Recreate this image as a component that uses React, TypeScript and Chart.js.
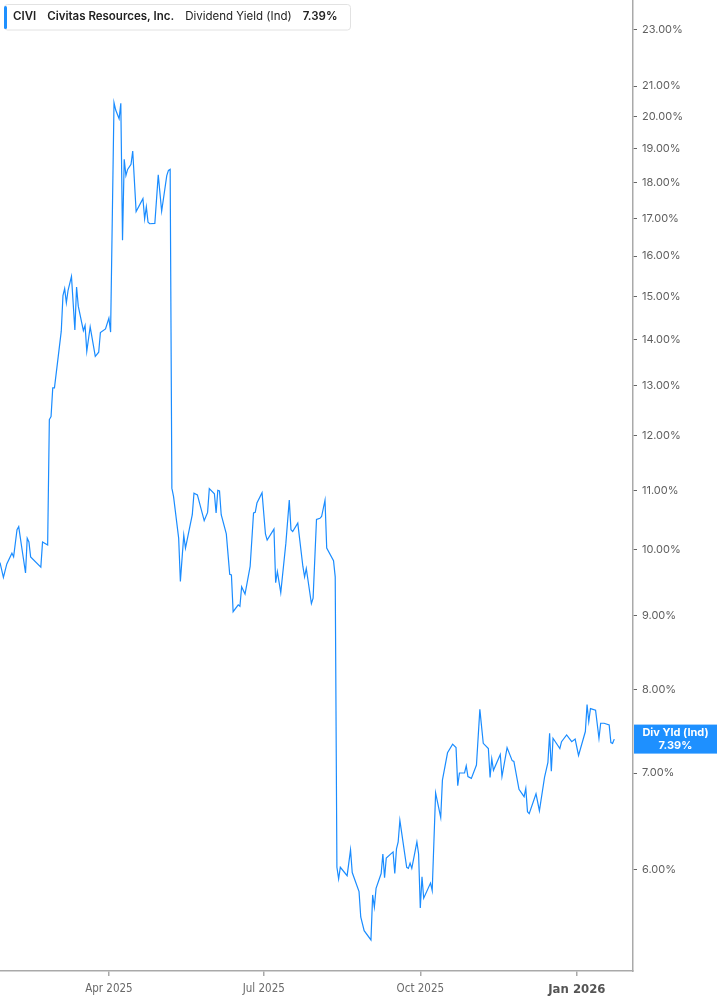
import React, { useEffect, useRef } from "react";
import { Chart, registerables } from "chart.js";

Chart.register(...registerables);

// ---- data ----
const ticker = "CIVI";
const companyName = "Civitas Resources, Inc.";
const metricName = "Dividend Yield (Ind)";
const badgeName = "Div Yld (Ind)";

const dates = [
  "2025-01-27","2025-01-29","2025-01-31","2025-02-03","2025-02-04","2025-02-06","2025-02-07","2025-02-09","2025-02-11","2025-02-12",
  "2025-02-13","2025-02-14","2025-02-20","2025-02-21","2025-02-24","2025-02-25","2025-02-26","2025-02-27","2025-02-28","2025-03-02",
  "2025-03-04","2025-03-05","2025-03-06","2025-03-07","2025-03-08","2025-03-10","2025-03-12","2025-03-13","2025-03-14","2025-03-17",
  "2025-03-18","2025-03-19","2025-03-21","2025-03-24","2025-03-26","2025-03-27","2025-03-30","2025-04-01","2025-04-02","2025-04-04",
  "2025-04-05","2025-04-07","2025-04-08","2025-04-09","2025-04-10","2025-04-11","2025-04-12","2025-04-14","2025-04-15","2025-04-17",
  "2025-04-21","2025-04-22","2025-04-23","2025-04-24","2025-04-25","2025-04-28","2025-04-30","2025-05-02","2025-05-05","2025-05-06",
  "2025-05-07","2025-05-08","2025-05-09","2025-05-12","2025-05-13","2025-05-15","2025-05-16","2025-05-20","2025-05-21","2025-05-23",
  "2025-05-27","2025-05-29","2025-05-30","2025-06-02","2025-06-03","2025-06-04","2025-06-05","2025-06-06","2025-06-09","2025-06-11",
  "2025-06-12","2025-06-13","2025-06-16","2025-06-17","2025-06-18","2025-06-20","2025-06-23","2025-06-25","2025-06-26","2025-06-27",
  "2025-06-30","2025-07-02","2025-07-03","2025-07-07","2025-07-08","2025-07-09","2025-07-11","2025-07-14","2025-07-16","2025-07-17",
  "2025-07-18","2025-07-21","2025-07-24","2025-07-25","2025-07-26","2025-07-29","2025-07-30","2025-08-01","2025-08-03","2025-08-04",
  "2025-08-06","2025-08-07","2025-08-11","2025-08-12","2025-08-13","2025-08-14","2025-08-15","2025-08-19","2025-08-21","2025-08-22",
  "2025-08-26","2025-08-27","2025-08-29","2025-09-02","2025-09-03","2025-09-04","2025-09-05","2025-09-08","2025-09-09","2025-09-10",
  "2025-09-11","2025-09-15","2025-09-16","2025-09-17","2025-09-18","2025-09-19","2025-09-23","2025-09-24","2025-09-25","2025-09-26",
  "2025-09-29","2025-09-30","2025-10-01","2025-10-02","2025-10-03","2025-10-07","2025-10-08","2025-10-10","2025-10-13","2025-10-14",
  "2025-10-17","2025-10-20","2025-10-22","2025-10-23","2025-10-24","2025-10-27","2025-10-28","2025-10-29","2025-10-31","2025-11-03",
  "2025-11-05","2025-11-07","2025-11-10","2025-11-11","2025-11-12","2025-11-13","2025-11-17","2025-11-18","2025-11-21","2025-11-24",
  "2025-11-25","2025-11-28","2025-12-01","2025-12-02","2025-12-03","2025-12-04","2025-12-08","2025-12-10","2025-12-13","2025-12-15",
  "2025-12-16","2025-12-17","2025-12-18","2025-12-22","2025-12-23","2025-12-26","2025-12-29","2025-12-31","2026-01-02","2026-01-06",
  "2026-01-07","2026-01-08","2026-01-09","2026-01-12","2026-01-14","2026-01-15","2026-01-17","2026-01-20","2026-01-21","2026-01-22",
  "2026-01-23",
];

const yields = [
  9.80, 9.57, 9.78, 9.95, 9.89, 10.33, 10.38, 10.00, 9.64, 10.19,
  10.13, 9.89, 9.73, 10.13, 10.08, 12.32, 12.38, 12.96, 12.96, 13.56,
  14.19, 15.02, 15.19, 14.85, 15.15, 15.49, 14.22, 15.23, 14.77, 14.20,
  14.32, 13.74, 14.29, 13.63, 13.72, 14.16, 14.24, 14.49, 14.17, 20.45,
  20.21, 19.93, 20.43, 16.41, 18.68, 18.20, 18.38, 18.53, 18.93, 17.18,
  17.54, 16.98, 17.31, 16.89, 16.85, 16.86, 18.22, 17.19, 18.20, 18.35,
  18.38, 11.04, 10.89, 10.19, 9.51, 10.24, 10.03, 10.58, 10.95, 10.92,
  10.48, 10.62, 11.03, 10.94, 10.61, 11.00, 10.99, 10.58, 10.26, 9.62,
  9.61, 9.06, 9.16, 9.14, 9.43, 9.32, 9.74, 10.61, 10.62, 10.78,
  10.96, 10.26, 10.16, 10.34, 9.49, 9.66, 9.34, 10.11, 10.83, 10.33,
  10.30, 10.44, 9.74, 9.58, 9.71, 9.18, 9.26, 10.50, 10.52, 10.55,
  10.83, 10.03, 9.83, 9.58, 6.02, 5.91, 6.02, 5.94, 6.19, 5.97,
  5.79, 5.56, 5.44, 5.36, 5.76, 5.65, 5.82, 5.96, 6.15, 5.92,
  6.11, 6.17, 5.96, 6.20, 6.27, 6.49, 6.02, 6.01, 6.06, 6.01,
  6.27, 6.15, 5.64, 5.93, 5.73, 5.87, 5.80, 6.78, 6.52, 6.92,
  7.23, 7.33, 7.29, 6.86, 7.00, 7.00, 7.08, 6.96, 6.94, 7.09,
  7.75, 7.34, 7.28, 6.95, 7.16, 7.03, 7.21, 6.96, 7.29, 7.14,
  7.13, 6.82, 6.74, 6.83, 6.58, 6.56, 6.77, 6.59, 6.95, 7.12,
  7.46, 7.02, 7.40, 7.28, 7.36, 7.44, 7.36, 7.39, 7.20, 7.48,
  7.81, 7.60, 7.76, 7.74, 7.40, 7.58, 7.58, 7.56, 7.35, 7.34,
  7.39,
];

const yTickValues = [6, 7, 8, 9, 10, 11, 12, 13, 14, 15, 16, 17, 18, 19, 20, 21, 23];
const xTickDates = ["2025-04-01", "2025-07-01", "2025-10-01", "2026-01-01"];
const xTickLabels = ["Apr 2025", "Jul 2025", "Oct 2025", "Jan 2026"];
const xRange = ["2025-01-27", "2026-02-03"];
const yRange = [5.1, 24.1];

// ---- styles ----
const W = 717;
const H = 1005;
const LINE_COLOR = "#1a8cff";
const BADGE_COLOR = "#1e90ff";
const AXIS_COLOR = "#a9a9a9";
const NARROW = "'Liberation Sans Narrow', 'DejaVu Sans Condensed', Roboto, sans-serif";
const UI = "Inter, 'Noto Sans', sans-serif";

const toDay = (s: string) => Date.parse(s + "T00:00:00Z") / 86400000;
const xTickDays = xTickDates.map(toDay);

const legendPlugin = {
  id: "legendBox",
  afterDraw(chart: any) {
    const ctx = chart.ctx as CanvasRenderingContext2D;
    ctx.save();
    const parts = [
      { t: ticker, f: `600 11.5px ${UI}`, c: "#222" },
      { t: companyName, f: `600 11.5px ${UI}`, c: "#222" },
      { t: metricName, f: `11.5px ${UI}`, c: "#222" },
      { t: yields[yields.length - 1].toFixed(2) + "%", f: `600 11.5px ${UI}`, c: "#222" },
    ];
    let x = 13;
    const positions: number[] = [];
    parts.forEach((p) => {
      ctx.font = p.f;
      positions.push(x);
      x += ctx.measureText(p.t).width + 11;
    });
    const boxRight = x - 11 + 13;
    const bx = 4.5, by = 4.5, bw = boxRight - bx, bh = 25.5;
    ctx.fillStyle = "#ffffff";
    ctx.strokeStyle = "#e2e2e2";
    ctx.lineWidth = 1;
    ctx.beginPath();
    (ctx as any).roundRect(bx, by, bw, bh, 3);
    ctx.fill();
    ctx.stroke();
    ctx.fillStyle = BADGE_COLOR;
    ctx.beginPath();
    (ctx as any).roundRect(4, 6, 3, 23, 1.5);
    ctx.fill();
    ctx.textBaseline = "middle";
    ctx.textAlign = "left";
    parts.forEach((p, i) => {
      ctx.font = p.f;
      ctx.fillStyle = p.c;
      ctx.fillText(p.t, positions[i], 17);
    });
    ctx.restore();
  },
};

const badgePlugin = {
  id: "lastBadge",
  afterDraw(chart: any) {
    const ctx = chart.ctx as CanvasRenderingContext2D;
    const y = chart.scales.y.getPixelForValue(yields[yields.length - 1]);
    const left = chart.chartArea.right + 1;
    ctx.save();
    ctx.fillStyle = BADGE_COLOR;
    ctx.fillRect(left, y - 14.5, W - left, 29);
    ctx.fillStyle = "#ffffff";
    ctx.textAlign = "center";
    ctx.textBaseline = "middle";
    ctx.font = `bold 11px ${UI}`;
    const cx = (left + W) / 2;
    ctx.fillText(badgeName, cx, y - 6);
    ctx.fillText(yields[yields.length - 1].toFixed(2) + "%", cx, y + 7);
    ctx.restore();
  },
};

export default function App() {
  const ref = useRef<HTMLCanvasElement | null>(null);

  useEffect(() => {
    document.body.style.margin = "0";
    const canvas = ref.current;
    if (!canvas) return;
    const points = dates.map((d, i) => ({ x: toDay(d), y: yields[i] }));
    const chart = new Chart(canvas, {
      type: "line",
      data: {
        datasets: [
          {
            data: points,
            borderColor: LINE_COLOR,
            borderWidth: 1.2,
            pointRadius: 0,
            tension: 0,
            fill: false,
          },
        ],
      },
      options: {
        animation: false,
        responsive: false,
        maintainAspectRatio: false,
        devicePixelRatio: 1,
        layout: { padding: 0 },
        plugins: { legend: { display: false }, tooltip: { enabled: false } },
        scales: {
          x: {
            type: "linear",
            position: "bottom",
            min: toDay(xRange[0]),
            max: toDay(xRange[1]),
            afterFit: (s: any) => {
              s.height = 34;
              s.paddingLeft = 0;
              s.paddingRight = 0;
              s.paddingTop = 0;
              s.paddingBottom = 0;
            },
            afterBuildTicks: (s: any) => {
              s.ticks = xTickDays.map((v) => ({ value: v }));
            },
            ticks: {
              autoSkip: false,
              maxRotation: 0,
              padding: 6,
              color: (c: any) => (c.index === 3 ? "#555" : "#6a6a6a"),
              font: (c: any) =>
                c.index === 3
                  ? { family: NARROW, size: 13, weight: "bold" }
                  : { family: NARROW, size: 11.5 },
              callback: (v: any) => {
                const i = xTickDays.indexOf(Number(v));
                return i >= 0 ? xTickLabels[i] : "";
              },
            },
            grid: { drawOnChartArea: false, drawTicks: true, tickLength: 5, color: AXIS_COLOR, lineWidth: 1.5 },
            border: { display: true, color: AXIS_COLOR, width: 1.5 },
          },
          y: {
            type: "logarithmic",
            position: "right",
            min: yRange[0],
            max: yRange[1],
            afterFit: (s: any) => {
              s.width = 84;
              s.paddingTop = 0;
              s.paddingBottom = 0;
              s.paddingLeft = 0;
              s.paddingRight = 0;
            },
            afterBuildTicks: (s: any) => {
              s.ticks = yTickValues.map((v) => ({ value: v }));
            },
            ticks: {
              autoSkip: false,
              padding: 5,
              color: "#5f5f5f",
              font: { family: UI, size: 11 },
              callback: (v: any) => Number(v).toFixed(2) + "%",
            },
            grid: { drawOnChartArea: false, drawTicks: true, tickLength: 4, color: "#666", lineWidth: 1 },
            border: { display: true, color: AXIS_COLOR, width: 1.5 },
          },
        },
      },
      plugins: [badgePlugin, legendPlugin],
    } as any);
    return () => chart.destroy();
  }, []);

  return (
    <div style={{ position: "absolute", left: 0, top: 0, width: W, height: H, background: "#fff" }}>
      <canvas ref={ref} width={W} height={H} style={{ width: W, height: H, display: "block" }} />
    </div>
  );
}
